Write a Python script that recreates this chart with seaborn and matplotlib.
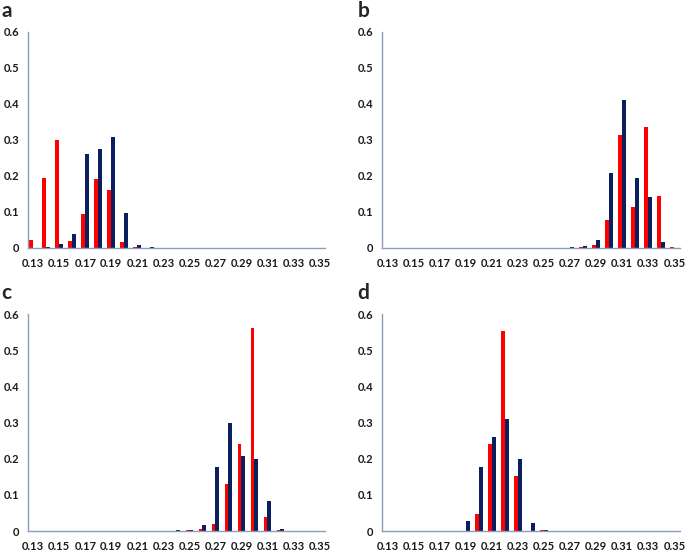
import matplotlib
matplotlib.use("Agg")
import matplotlib.pyplot as plt
import pandas as pd
import seaborn as sns

# categories on the x axis
bins = ["0.13", "0.14", "0.15", "0.16", "0.17", "0.18", "0.19", "0.20", "0.21", "0.22", "0.23", "0.24",
        "0.25", "0.26", "0.27", "0.28", "0.29", "0.30", "0.31", "0.32", "0.33", "0.34", "0.35"]
tick_labels = ["0.13", "0.15", "0.17", "0.19", "0.21", "0.23", "0.25", "0.27", "0.29", "0.31", "0.33", "0.35"]
y_labels = ["0", "0.1", "0.2", "0.3", "0.4", "0.5", "0.6"]

# panel a
a_red = [0.022, 0.195, 0.300, 0.020, 0.093, 0.192, 0.160, 0.016, 0.002, 0, 0, 0,
         0, 0, 0, 0, 0, 0, 0, 0, 0, 0, 0]
a_navy = [0, 0.002, 0.010, 0.040, 0.262, 0.274, 0.307, 0.097, 0.009, 0.002, 0, 0,
          0, 0, 0, 0, 0, 0, 0, 0, 0, 0, 0]
# panel b
b_red = [0, 0, 0, 0, 0, 0, 0, 0, 0, 0, 0, 0,
         0, 0, 0, 0.002, 0.007, 0.077, 0.313, 0.114, 0.336, 0.145, 0.003]
b_navy = [0, 0, 0, 0, 0, 0, 0, 0, 0, 0, 0, 0,
          0, 0, 0.002, 0.006, 0.022, 0.209, 0.411, 0.195, 0.141, 0.017, 0]
# panel c
c_red = [0, 0, 0, 0, 0, 0, 0, 0, 0, 0, 0, 0,
         0.002, 0.005, 0.021, 0.130, 0.242, 0.562, 0.038, 0.002, 0, 0, 0]
c_navy = [0, 0, 0, 0, 0, 0, 0, 0, 0, 0, 0.001, 0.004,
          0.003, 0.018, 0.177, 0.298, 0.208, 0.200, 0.082, 0.006, 0, 0, 0]
# panel d
d_red = [0, 0, 0, 0, 0, 0, 0.001, 0.047, 0.240, 0.553, 0.153, 0.001,
         0.003, 0, 0, 0, 0, 0, 0, 0, 0, 0, 0]
d_navy = [0, 0, 0, 0, 0.001, 0.001, 0.029, 0.176, 0.260, 0.310, 0.200, 0.022,
          0.003, 0, 0, 0, 0, 0, 0, 0, 0, 0, 0]

panels = [("a", a_red, a_navy), ("b", b_red, b_navy), ("c", c_red, c_navy), ("d", d_red, d_navy)]

sns.set_style("white")
plt.rcParams['font.family'] = ['Lato', 'DejaVu Sans']

spine_col = "#8c9dbf"
palette = {"red": "#ff0000", "navy": "#0b1f5e"}

fig = plt.figure(figsize=(6.85, 5.51), dpi=100)
positions = [(0.041, 0.550, 0.434, 0.392), (0.558, 0.550, 0.435, 0.392),
             (0.041, 0.036, 0.434, 0.394), (0.558, 0.036, 0.435, 0.394)]
label_pos = [(0.002, 0.980), (0.522, 0.980), (0.002, 0.468), (0.521, 0.468)]

for (name, red, navy), pos, lp in zip(panels, positions, label_pos):
    df = pd.DataFrame({
        "bin": bins * 2,
        "value": red + navy,
        "series": ["red"] * len(bins) + ["navy"] * len(bins),
    })
    ax = fig.add_axes(pos)
    sns.barplot(data=df, x="bin", y="value", hue="series", order=bins,
                hue_order=["red", "navy"], palette=palette, width=0.6,
                linewidth=0, saturation=1, legend=False, ax=ax)
    ax.set_xlim(-0.4, 22.45)
    ax.set_ylim(0, 0.6)
    ax.set_yticks([0, 0.1, 0.2, 0.3, 0.4, 0.5, 0.6])
    ax.set_yticklabels(y_labels)
    ax.set_xticks(range(0, 23, 2))
    ax.set_xticklabels(tick_labels)
    ax.set_xlabel("")
    ax.set_ylabel("")
    sns.despine(ax=ax)
    for s in ["left", "bottom"]:
        ax.spines[s].set_color(spine_col)
        ax.spines[s].set_linewidth(1.0)
    ax.tick_params(axis="y", length=2.5, width=1, color=spine_col, pad=4, labelsize=8)
    ax.tick_params(axis="x", length=0, pad=7, labelsize=8)
    for t in ax.get_xticklabels() + ax.get_yticklabels():
        t.set_fontweight("bold")
        t.set_color("#1a1a1a")
    fig.text(lp[0], lp[1], name, fontsize=15, fontweight="bold", ha="left", va="center")

fig.savefig("out.png", dpi=100)
